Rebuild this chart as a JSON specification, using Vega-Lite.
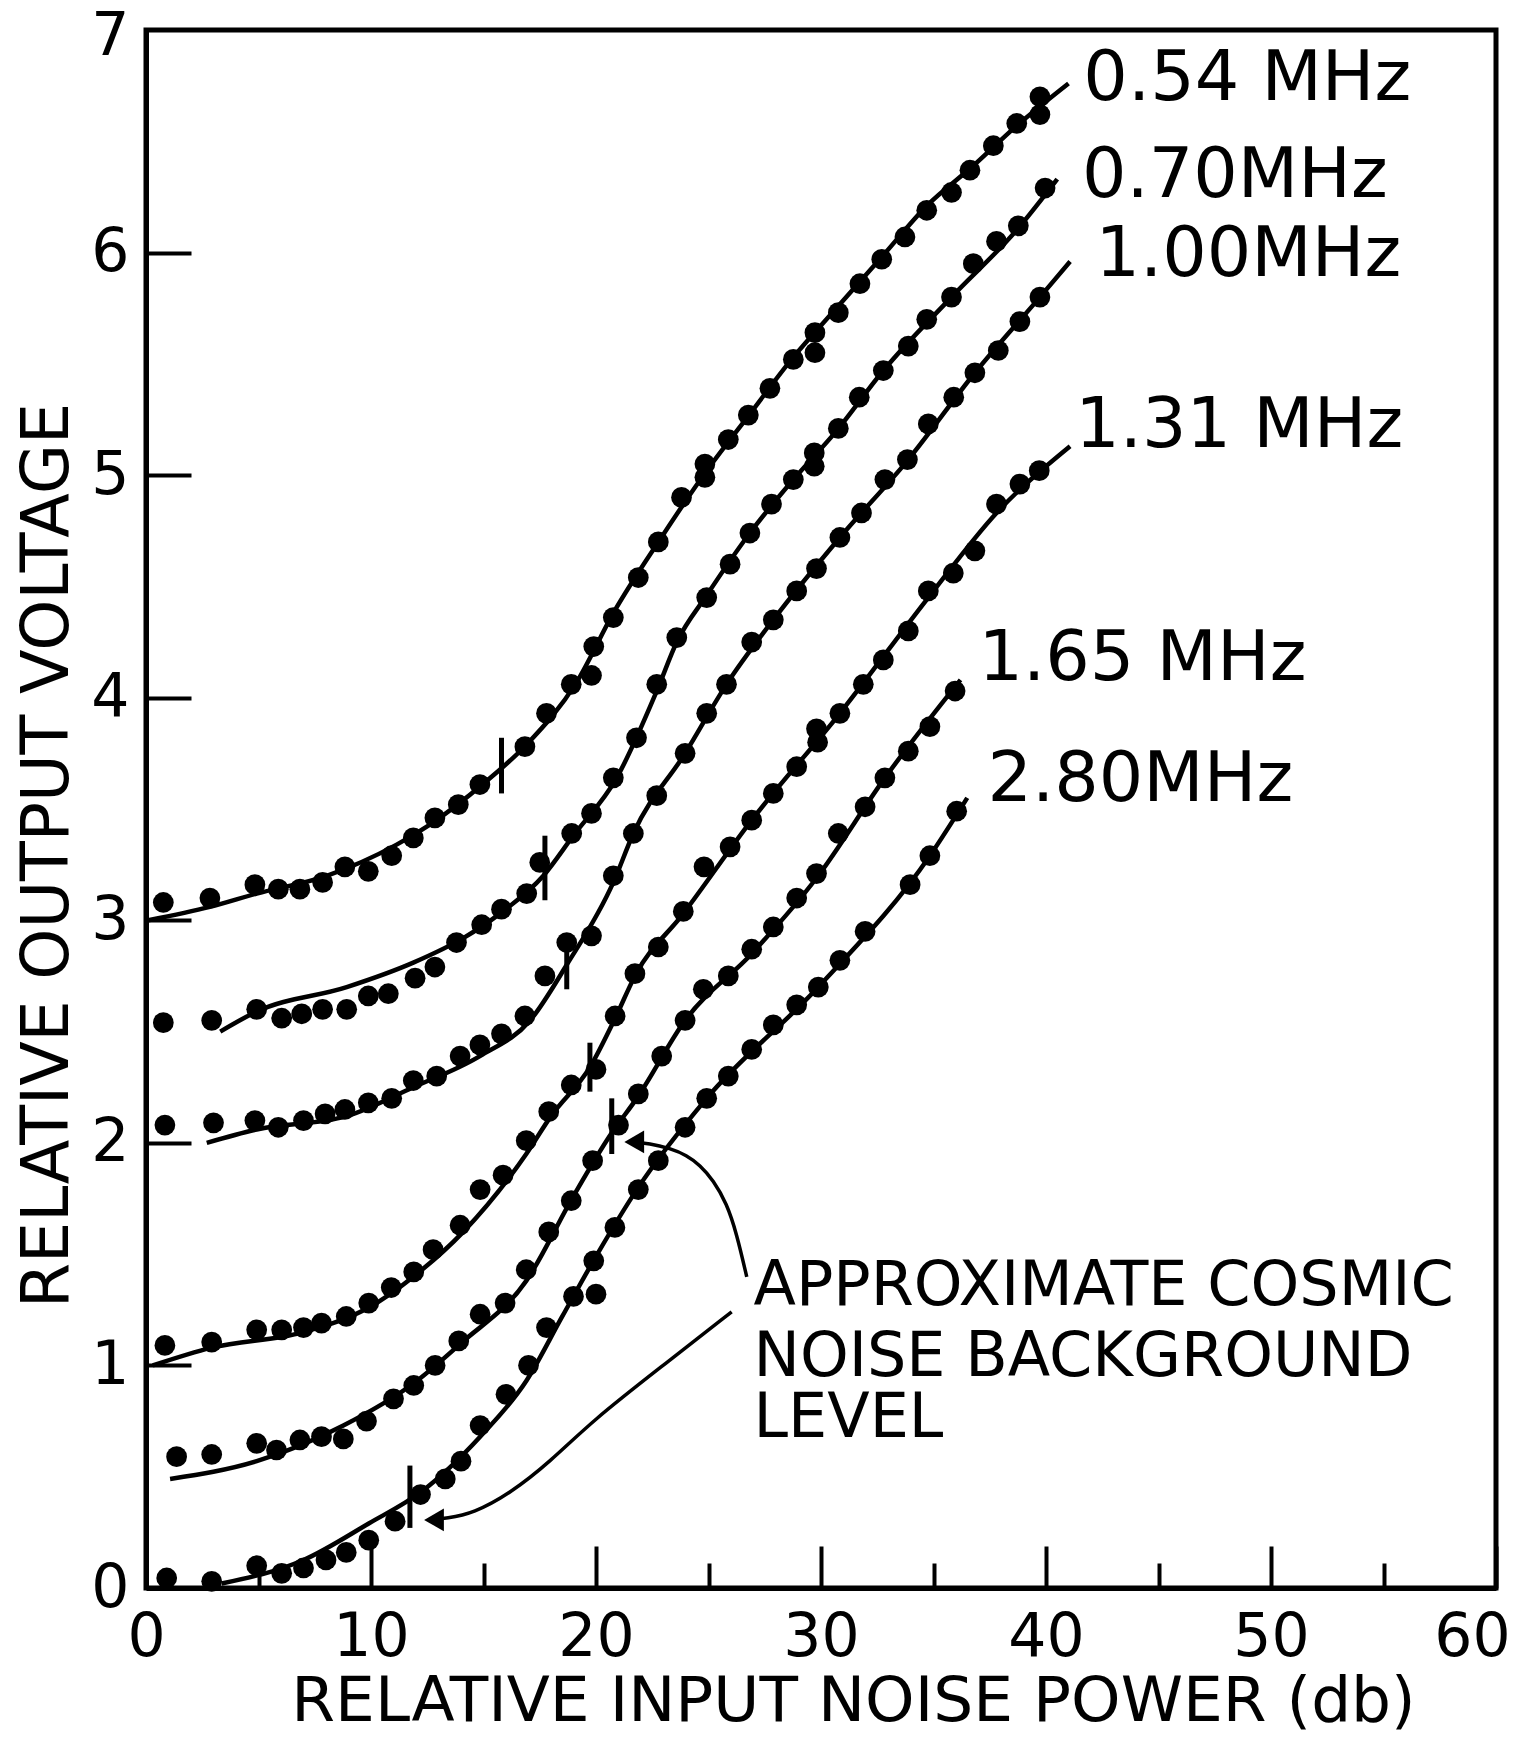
{
  "$schema": "https://vega.github.io/schema/vega-lite/v6.json",
  "width": 1350,
  "height": 1558,
  "autosize": "none",
  "padding": {"left": 146, "top": 30, "right": 31, "bottom": 154},
  "background": "white",
  "config": {
    "font": "DejaVu Sans",
    "view": {"stroke": "black", "strokeWidth": 5},
    "axis": {
      "grid": false,
      "domainColor": "black",
      "domainWidth": 5,
      "tickColor": "black",
      "tickWidth": 4,
      "labelFont": "DejaVu Sans",
      "labelFontSize": 60,
      "labelColor": "black",
      "labelFlush": false,
      "labelOverlap": false,
      "titleFont": "DejaVu Sans",
      "titleFontWeight": "normal",
      "titleColor": "black"
    }
  },
  "datasets": {
    "points": [
      {"series": "0.54", "x": 0.77, "y": 3.08}, {"series": "0.54", "x": 2.84, "y": 3.10}, {"series": "0.54", "x": 4.84, "y": 3.16},
      {"series": "0.54", "x": 5.88, "y": 3.14}, {"series": "0.54", "x": 6.84, "y": 3.14}, {"series": "0.54", "x": 7.85, "y": 3.17},
      {"series": "0.54", "x": 8.84, "y": 3.24}, {"series": "0.54", "x": 9.88, "y": 3.22}, {"series": "0.54", "x": 10.92, "y": 3.29},
      {"series": "0.54", "x": 11.88, "y": 3.37}, {"series": "0.54", "x": 12.84, "y": 3.46}, {"series": "0.54", "x": 13.88, "y": 3.52},
      {"series": "0.54", "x": 14.84, "y": 3.61}, {"series": "0.54", "x": 16.84, "y": 3.78}, {"series": "0.54", "x": 17.8, "y": 3.93},
      {"series": "0.54", "x": 18.9, "y": 4.06}, {"series": "0.54", "x": 19.8, "y": 4.10}, {"series": "0.54", "x": 19.9, "y": 4.23},
      {"series": "0.54", "x": 20.77, "y": 4.36}, {"series": "0.54", "x": 21.88, "y": 4.54}, {"series": "0.54", "x": 22.77, "y": 4.70},
      {"series": "0.54", "x": 23.8, "y": 4.90}, {"series": "0.54", "x": 24.84, "y": 4.99}, {"series": "0.54", "x": 24.84, "y": 5.05},
      {"series": "0.54", "x": 25.88, "y": 5.16}, {"series": "0.54", "x": 26.77, "y": 5.27}, {"series": "0.54", "x": 27.73, "y": 5.39},
      {"series": "0.54", "x": 28.77, "y": 5.52}, {"series": "0.54", "x": 29.73, "y": 5.55}, {"series": "0.54", "x": 29.73, "y": 5.64},
      {"series": "0.54", "x": 30.77, "y": 5.73}, {"series": "0.54", "x": 31.73, "y": 5.86}, {"series": "0.54", "x": 32.7, "y": 5.97},
      {"series": "0.54", "x": 33.73, "y": 6.07}, {"series": "0.54", "x": 34.7, "y": 6.19}, {"series": "0.54", "x": 35.8, "y": 6.27},
      {"series": "0.54", "x": 36.62, "y": 6.37}, {"series": "0.54", "x": 37.66, "y": 6.48}, {"series": "0.54", "x": 38.7, "y": 6.58},
      {"series": "0.54", "x": 39.73, "y": 6.62}, {"series": "0.54", "x": 39.73, "y": 6.70},

      {"series": "0.70", "x": 0.77, "y": 2.54}, {"series": "0.70", "x": 2.92, "y": 2.55}, {"series": "0.70", "x": 4.92, "y": 2.60},
      {"series": "0.70", "x": 6.03, "y": 2.56}, {"series": "0.70", "x": 6.92, "y": 2.58}, {"series": "0.70", "x": 7.85, "y": 2.60},
      {"series": "0.70", "x": 8.92, "y": 2.60}, {"series": "0.70", "x": 9.88, "y": 2.66}, {"series": "0.70", "x": 10.77, "y": 2.67},
      {"series": "0.70", "x": 11.96, "y": 2.74}, {"series": "0.70", "x": 12.84, "y": 2.79}, {"series": "0.70", "x": 13.8, "y": 2.90},
      {"series": "0.70", "x": 14.92, "y": 2.98}, {"series": "0.70", "x": 15.8, "y": 3.05}, {"series": "0.70", "x": 16.92, "y": 3.12},
      {"series": "0.70", "x": 17.5, "y": 3.26}, {"series": "0.70", "x": 18.92, "y": 3.39}, {"series": "0.70", "x": 19.8, "y": 3.48},
      {"series": "0.70", "x": 20.77, "y": 3.64}, {"series": "0.70", "x": 21.8, "y": 3.82}, {"series": "0.70", "x": 22.7, "y": 4.06},
      {"series": "0.70", "x": 23.59, "y": 4.27}, {"series": "0.70", "x": 24.92, "y": 4.45}, {"series": "0.70", "x": 25.96, "y": 4.60},
      {"series": "0.70", "x": 26.84, "y": 4.74}, {"series": "0.70", "x": 27.8, "y": 4.87}, {"series": "0.70", "x": 28.77, "y": 4.98},
      {"series": "0.70", "x": 29.7, "y": 5.04}, {"series": "0.70", "x": 29.7, "y": 5.10}, {"series": "0.70", "x": 30.77, "y": 5.21},
      {"series": "0.70", "x": 31.7, "y": 5.35}, {"series": "0.70", "x": 32.77, "y": 5.47}, {"series": "0.70", "x": 33.88, "y": 5.58},
      {"series": "0.70", "x": 34.7, "y": 5.70}, {"series": "0.70", "x": 35.8, "y": 5.80}, {"series": "0.70", "x": 36.77, "y": 5.95},
      {"series": "0.70", "x": 37.8, "y": 6.05}, {"series": "0.70", "x": 38.77, "y": 6.12}, {"series": "0.70", "x": 39.96, "y": 6.29},

      {"series": "1.00", "x": 0.84, "y": 2.08}, {"series": "1.00", "x": 3.0, "y": 2.09}, {"series": "1.00", "x": 4.84, "y": 2.10},
      {"series": "1.00", "x": 5.88, "y": 2.07}, {"series": "1.00", "x": 7.0, "y": 2.10}, {"series": "1.00", "x": 7.96, "y": 2.13},
      {"series": "1.00", "x": 8.84, "y": 2.15}, {"series": "1.00", "x": 9.88, "y": 2.18}, {"series": "1.00", "x": 10.92, "y": 2.20},
      {"series": "1.00", "x": 11.88, "y": 2.28}, {"series": "1.00", "x": 12.92, "y": 2.30}, {"series": "1.00", "x": 13.96, "y": 2.39},
      {"series": "1.00", "x": 14.84, "y": 2.44}, {"series": "1.00", "x": 15.8, "y": 2.49}, {"series": "1.00", "x": 16.84, "y": 2.57},
      {"series": "1.00", "x": 17.73, "y": 2.75}, {"series": "1.00", "x": 18.7, "y": 2.90}, {"series": "1.00", "x": 19.8, "y": 2.93},
      {"series": "1.00", "x": 20.77, "y": 3.20}, {"series": "1.00", "x": 21.66, "y": 3.39}, {"series": "1.00", "x": 22.7, "y": 3.56},
      {"series": "1.00", "x": 23.96, "y": 3.75}, {"series": "1.00", "x": 24.92, "y": 3.93}, {"series": "1.00", "x": 25.8, "y": 4.06},
      {"series": "1.00", "x": 26.92, "y": 4.25}, {"series": "1.00", "x": 27.88, "y": 4.35}, {"series": "1.00", "x": 28.92, "y": 4.48},
      {"series": "1.00", "x": 29.8, "y": 4.58}, {"series": "1.00", "x": 30.84, "y": 4.72}, {"series": "1.00", "x": 31.8, "y": 4.83},
      {"series": "1.00", "x": 32.84, "y": 4.98}, {"series": "1.00", "x": 33.84, "y": 5.07}, {"series": "1.00", "x": 34.77, "y": 5.23},
      {"series": "1.00", "x": 35.9, "y": 5.35}, {"series": "1.00", "x": 36.84, "y": 5.46}, {"series": "1.00", "x": 37.88, "y": 5.56},
      {"series": "1.00", "x": 38.84, "y": 5.69}, {"series": "1.00", "x": 39.73, "y": 5.80},

      {"series": "1.31", "x": 0.84, "y": 1.09}, {"series": "1.31", "x": 2.92, "y": 1.105}, {"series": "1.31", "x": 4.92, "y": 1.16},
      {"series": "1.31", "x": 6.03, "y": 1.16}, {"series": "1.31", "x": 7.0, "y": 1.17}, {"series": "1.31", "x": 7.8, "y": 1.19},
      {"series": "1.31", "x": 8.9, "y": 1.22}, {"series": "1.31", "x": 9.9, "y": 1.28}, {"series": "1.31", "x": 10.9, "y": 1.35},
      {"series": "1.31", "x": 11.9, "y": 1.42}, {"series": "1.31", "x": 12.76, "y": 1.52}, {"series": "1.31", "x": 13.96, "y": 1.63},
      {"series": "1.31", "x": 14.85, "y": 1.79}, {"series": "1.31", "x": 15.87, "y": 1.855}, {"series": "1.31", "x": 16.9, "y": 2.01},
      {"series": "1.31", "x": 17.9, "y": 2.14}, {"series": "1.31", "x": 18.9, "y": 2.26}, {"series": "1.31", "x": 20.0, "y": 2.33},
      {"series": "1.31", "x": 20.85, "y": 2.57}, {"series": "1.31", "x": 21.73, "y": 2.76}, {"series": "1.31", "x": 22.77, "y": 2.88},
      {"series": "1.31", "x": 23.88, "y": 3.04}, {"series": "1.31", "x": 24.8, "y": 3.24}, {"series": "1.31", "x": 25.96, "y": 3.33},
      {"series": "1.31", "x": 26.92, "y": 3.45}, {"series": "1.31", "x": 27.88, "y": 3.57}, {"series": "1.31", "x": 28.92, "y": 3.69},
      {"series": "1.31", "x": 29.85, "y": 3.80}, {"series": "1.31", "x": 29.8, "y": 3.86}, {"series": "1.31", "x": 30.84, "y": 3.93},
      {"series": "1.31", "x": 31.88, "y": 4.06}, {"series": "1.31", "x": 32.77, "y": 4.17}, {"series": "1.31", "x": 33.88, "y": 4.30},
      {"series": "1.31", "x": 34.77, "y": 4.48}, {"series": "1.31", "x": 35.88, "y": 4.56}, {"series": "1.31", "x": 36.84, "y": 4.66},
      {"series": "1.31", "x": 37.8, "y": 4.87}, {"series": "1.31", "x": 38.84, "y": 4.96}, {"series": "1.31", "x": 39.7, "y": 5.02},

      {"series": "1.65", "x": 1.36, "y": 0.59}, {"series": "1.65", "x": 2.92, "y": 0.60}, {"series": "1.65", "x": 4.92, "y": 0.65},
      {"series": "1.65", "x": 5.8, "y": 0.62}, {"series": "1.65", "x": 6.84, "y": 0.665}, {"series": "1.65", "x": 7.8, "y": 0.68},
      {"series": "1.65", "x": 8.77, "y": 0.67}, {"series": "1.65", "x": 9.8, "y": 0.75}, {"series": "1.65", "x": 11.0, "y": 0.85},
      {"series": "1.65", "x": 11.9, "y": 0.91}, {"series": "1.65", "x": 12.85, "y": 1.0}, {"series": "1.65", "x": 13.9, "y": 1.11},
      {"series": "1.65", "x": 14.85, "y": 1.23}, {"series": "1.65", "x": 15.96, "y": 1.28}, {"series": "1.65", "x": 16.9, "y": 1.43},
      {"series": "1.65", "x": 17.9, "y": 1.60}, {"series": "1.65", "x": 18.9, "y": 1.74}, {"series": "1.65", "x": 19.85, "y": 1.92},
      {"series": "1.65", "x": 21.0, "y": 2.08}, {"series": "1.65", "x": 21.88, "y": 2.22}, {"series": "1.65", "x": 22.92, "y": 2.39},
      {"series": "1.65", "x": 23.96, "y": 2.55}, {"series": "1.65", "x": 24.77, "y": 2.69}, {"series": "1.65", "x": 25.88, "y": 2.75},
      {"series": "1.65", "x": 26.92, "y": 2.87}, {"series": "1.65", "x": 27.88, "y": 2.97}, {"series": "1.65", "x": 28.92, "y": 3.10},
      {"series": "1.65", "x": 29.8, "y": 3.21}, {"series": "1.65", "x": 30.77, "y": 3.39}, {"series": "1.65", "x": 31.96, "y": 3.51},
      {"series": "1.65", "x": 32.84, "y": 3.64}, {"series": "1.65", "x": 33.88, "y": 3.76}, {"series": "1.65", "x": 34.84, "y": 3.87},
      {"series": "1.65", "x": 35.96, "y": 4.03},

      {"series": "2.80", "x": 0.92, "y": 0.045}, {"series": "2.80", "x": 2.92, "y": 0.03}, {"series": "2.80", "x": 4.92, "y": 0.10},
      {"series": "2.80", "x": 6.03, "y": 0.066}, {"series": "2.80", "x": 7.0, "y": 0.09}, {"series": "2.80", "x": 8.0, "y": 0.126},
      {"series": "2.80", "x": 8.9, "y": 0.16}, {"series": "2.80", "x": 9.9, "y": 0.215}, {"series": "2.80", "x": 11.07, "y": 0.30},
      {"series": "2.80", "x": 12.2, "y": 0.42}, {"series": "2.80", "x": 13.3, "y": 0.49}, {"series": "2.80", "x": 14.0, "y": 0.57},
      {"series": "2.80", "x": 14.85, "y": 0.73}, {"series": "2.80", "x": 16.0, "y": 0.87}, {"series": "2.80", "x": 17.0, "y": 1.0},
      {"series": "2.80", "x": 17.8, "y": 1.17}, {"series": "2.80", "x": 19.0, "y": 1.31}, {"series": "2.80", "x": 20.0, "y": 1.32},
      {"series": "2.80", "x": 19.9, "y": 1.47}, {"series": "2.80", "x": 20.84, "y": 1.62}, {"series": "2.80", "x": 21.88, "y": 1.79},
      {"series": "2.80", "x": 22.77, "y": 1.92}, {"series": "2.80", "x": 23.96, "y": 2.07}, {"series": "2.80", "x": 24.92, "y": 2.20},
      {"series": "2.80", "x": 25.88, "y": 2.30}, {"series": "2.80", "x": 26.92, "y": 2.42}, {"series": "2.80", "x": 27.88, "y": 2.53},
      {"series": "2.80", "x": 28.92, "y": 2.62}, {"series": "2.80", "x": 29.88, "y": 2.70}, {"series": "2.80", "x": 30.84, "y": 2.82},
      {"series": "2.80", "x": 31.96, "y": 2.95}, {"series": "2.80", "x": 33.96, "y": 3.16}, {"series": "2.80", "x": 34.84, "y": 3.29},
      {"series": "2.80", "x": 36.03, "y": 3.49}
    ],
    "curves": [
      {"series": "0.54", "x": 0.1, "y": 3.0}, {"series": "0.54", "x": 2.84, "y": 3.06}, {"series": "0.54", "x": 4.92, "y": 3.12},
      {"series": "0.54", "x": 8.03, "y": 3.2}, {"series": "0.54", "x": 11.14, "y": 3.34}, {"series": "0.54", "x": 12.62, "y": 3.43},
      {"series": "0.54", "x": 15.07, "y": 3.62}, {"series": "0.54", "x": 16.92, "y": 3.79}, {"series": "0.54", "x": 19.14, "y": 4.07},
      {"series": "0.54", "x": 20.77, "y": 4.38}, {"series": "0.54", "x": 22.84, "y": 4.71}, {"series": "0.54", "x": 24.92, "y": 5.02},
      {"series": "0.54", "x": 26.8, "y": 5.27}, {"series": "0.54", "x": 28.77, "y": 5.53}, {"series": "0.54", "x": 30.77, "y": 5.76},
      {"series": "0.54", "x": 32.7, "y": 5.98}, {"series": "0.54", "x": 34.7, "y": 6.21}, {"series": "0.54", "x": 36.77, "y": 6.39},
      {"series": "0.54", "x": 38.7, "y": 6.57}, {"series": "0.54", "x": 41.0, "y": 6.76},

      {"series": "0.70", "x": 3.3, "y": 2.5}, {"series": "0.70", "x": 4.92, "y": 2.59}, {"series": "0.70", "x": 8.92, "y": 2.7},
      {"series": "0.70", "x": 11.88, "y": 2.81}, {"series": "0.70", "x": 14.1, "y": 2.92}, {"series": "0.70", "x": 15.73, "y": 3.03},
      {"series": "0.70", "x": 17.66, "y": 3.2}, {"series": "0.70", "x": 18.99, "y": 3.38}, {"series": "0.70", "x": 20.92, "y": 3.64},
      {"series": "0.70", "x": 22.7, "y": 4.03}, {"series": "0.70", "x": 23.59, "y": 4.25}, {"series": "0.70", "x": 24.92, "y": 4.46},
      {"series": "0.70", "x": 26.84, "y": 4.74}, {"series": "0.70", "x": 28.77, "y": 4.98}, {"series": "0.70", "x": 30.7, "y": 5.2},
      {"series": "0.70", "x": 32.77, "y": 5.47}, {"series": "0.70", "x": 35.8, "y": 5.8}, {"series": "0.70", "x": 38.77, "y": 6.11},
      {"series": "0.70", "x": 40.5, "y": 6.33},

      {"series": "1.00", "x": 2.7, "y": 2.0}, {"series": "1.00", "x": 4.92, "y": 2.06}, {"series": "1.00", "x": 8.92, "y": 2.12},
      {"series": "1.00", "x": 11.88, "y": 2.25}, {"series": "1.00", "x": 14.84, "y": 2.39}, {"series": "1.00", "x": 17.07, "y": 2.55},
      {"series": "1.00", "x": 18.7, "y": 2.8}, {"series": "1.00", "x": 20.77, "y": 3.17}, {"series": "1.00", "x": 21.66, "y": 3.39},
      {"series": "1.00", "x": 23.96, "y": 3.75}, {"series": "1.00", "x": 25.8, "y": 4.06}, {"series": "1.00", "x": 27.88, "y": 4.35},
      {"series": "1.00", "x": 30.84, "y": 4.72}, {"series": "1.00", "x": 33.88, "y": 5.07}, {"series": "1.00", "x": 36.84, "y": 5.46},
      {"series": "1.00", "x": 39.73, "y": 5.8}, {"series": "1.00", "x": 41.07, "y": 5.96},

      {"series": "1.31", "x": 0.3, "y": 1.0}, {"series": "1.31", "x": 2.92, "y": 1.08}, {"series": "1.31", "x": 7.0, "y": 1.15},
      {"series": "1.31", "x": 9.9, "y": 1.26}, {"series": "1.31", "x": 11.9, "y": 1.4}, {"series": "1.31", "x": 14.1, "y": 1.6},
      {"series": "1.31", "x": 16.9, "y": 1.95}, {"series": "1.31", "x": 18.0, "y": 2.12}, {"series": "1.31", "x": 19.73, "y": 2.34},
      {"series": "1.31", "x": 20.85, "y": 2.56}, {"series": "1.31", "x": 21.73, "y": 2.75}, {"series": "1.31", "x": 23.88, "y": 3.03},
      {"series": "1.31", "x": 26.92, "y": 3.45}, {"series": "1.31", "x": 30.84, "y": 3.93}, {"series": "1.31", "x": 34.77, "y": 4.45},
      {"series": "1.31", "x": 37.8, "y": 4.83}, {"series": "1.31", "x": 41.07, "y": 5.13},

      {"series": "1.65", "x": 1.07, "y": 0.49}, {"series": "1.65", "x": 4.92, "y": 0.57}, {"series": "1.65", "x": 8.77, "y": 0.73},
      {"series": "1.65", "x": 11.9, "y": 0.92}, {"series": "1.65", "x": 14.0, "y": 1.1}, {"series": "1.65", "x": 16.9, "y": 1.38},
      {"series": "1.65", "x": 18.99, "y": 1.76}, {"series": "1.65", "x": 20.6, "y": 2.03}, {"series": "1.65", "x": 21.88, "y": 2.21},
      {"series": "1.65", "x": 23.96, "y": 2.55}, {"series": "1.65", "x": 26.92, "y": 2.85}, {"series": "1.65", "x": 29.8, "y": 3.19},
      {"series": "1.65", "x": 32.84, "y": 3.64}, {"series": "1.65", "x": 36.2, "y": 4.08},

      {"series": "2.80", "x": 3.36, "y": 0.02}, {"series": "2.80", "x": 7.0, "y": 0.126}, {"series": "2.80", "x": 9.9, "y": 0.29},
      {"series": "2.80", "x": 12.2, "y": 0.43}, {"series": "2.80", "x": 14.85, "y": 0.68}, {"series": "2.80", "x": 16.9, "y": 0.93},
      {"series": "2.80", "x": 18.5, "y": 1.22}, {"series": "2.80", "x": 20.0, "y": 1.49}, {"series": "2.80", "x": 21.88, "y": 1.8},
      {"series": "2.80", "x": 24.92, "y": 2.2}, {"series": "2.80", "x": 29.88, "y": 2.7}, {"series": "2.80", "x": 34.84, "y": 3.29},
      {"series": "2.80", "x": 36.5, "y": 3.55}
    ],
    "cosmic": [
      {"series": "0.54", "x": 15.8, "y": 3.57, "y2": 3.82},
      {"series": "0.70", "x": 17.73, "y": 3.09, "y2": 3.38},
      {"series": "1.00", "x": 18.7, "y": 2.69, "y2": 2.92},
      {"series": "1.31", "x": 19.73, "y": 2.23, "y2": 2.45},
      {"series": "1.65", "x": 20.7, "y": 1.95, "y2": 2.2},
      {"series": "2.80", "x": 11.73, "y": 0.27, "y2": 0.55}
    ],
    "arrows": [
      {"arrow": "a", "order": 1, "x": 26.7, "y": 1.398}, {"arrow": "a", "order": 2, "x": 26.25, "y": 1.593},
      {"arrow": "a", "order": 3, "x": 25.81, "y": 1.728}, {"arrow": "a", "order": 4, "x": 25.21, "y": 1.833},
      {"arrow": "a", "order": 5, "x": 24.62, "y": 1.9}, {"arrow": "a", "order": 6, "x": 24.03, "y": 1.945},
      {"arrow": "a", "order": 7, "x": 23.29, "y": 1.975}, {"arrow": "a", "order": 8, "x": 22.4, "y": 1.998},
      {"arrow": "a", "order": 9, "x": 21.5, "y": 2.004},
      {"arrow": "b", "order": 1, "x": 26.03, "y": 1.241}, {"arrow": "b", "order": 2, "x": 22.84, "y": 0.989},
      {"arrow": "b", "order": 3, "x": 19.88, "y": 0.755}, {"arrow": "b", "order": 4, "x": 17.96, "y": 0.567},
      {"arrow": "b", "order": 5, "x": 16.18, "y": 0.425}, {"arrow": "b", "order": 6, "x": 14.55, "y": 0.336},
      {"arrow": "b", "order": 7, "x": 13.36, "y": 0.313}, {"arrow": "b", "order": 8, "x": 12.6, "y": 0.306}
    ],
    "heads": [
      {"arrow": "a", "x": 21.7, "y": 2.004},
      {"arrow": "b", "x": 12.8, "y": 0.306}
    ],
    "labels": [
      {"text": "0.54 MHz", "x": 41.66, "y": 6.78},
      {"text": "0.70MHz", "x": 41.6, "y": 6.345},
      {"text": "1.00MHz", "x": 42.2, "y": 5.99},
      {"text": "1.31 MHz", "x": 41.3, "y": 5.22},
      {"text": "1.65 MHz", "x": 37.0, "y": 4.175},
      {"text": "2.80MHz", "x": 37.4, "y": 3.63}
    ],
    "notes": [
      {"text": "APPROXIMATE  COSMIC", "x": 27.0, "y": 1.357},
      {"text": "NOISE  BACKGROUND", "x": 27.0, "y": 1.04},
      {"text": "LEVEL", "x": 27.0, "y": 0.764}
    ]
  },
  "encoding": {
    "x": {
      "field": "x",
      "type": "quantitative",
      "scale": {"domain": [0, 60], "nice": false, "zero": false},
      "axis": {
        "title": "RELATIVE INPUT NOISE POWER (db)",
        "titleFontSize": 63,
        "values": [0, 5, 10, 15, 20, 25, 30, 35, 40, 45, 50, 55, 60],
        "labelExpr": "datum.value % 10 === 0 ? datum.label : ''",
        "tickSize": {"condition": {"test": "datum.value % 10 === 0", "value": -42}, "value": -25},
        "labelPadding": {"condition": {"test": "datum.value % 10 === 0", "value": 62}, "value": 45},
        "labelOffset": {"condition": {"test": "datum.value === 60", "value": -24}, "value": 0},
        "labelBaseline": "top",
        "titleX": 707,
        "titleY": 113,
        "titleBaseline": "middle",
        "titleAlign": "center"
      }
    },
    "y": {
      "field": "y",
      "type": "quantitative",
      "scale": {"domain": [0, 7], "nice": false, "zero": false},
      "axis": {
        "title": "RELATIVE OUTPUT VOLTAGE",
        "titleFontSize": 65,
        "values": [0, 1, 2, 3, 4, 5, 6, 7],
        "tickSize": {"condition": {"test": "datum.value > 0 && datum.value < 7", "value": -45}, "value": 0},
        "labelPadding": {"condition": {"test": "datum.value > 0 && datum.value < 7", "value": 62}, "value": 17},
        "labelOffset": {"condition": {"test": "datum.value === 7", "value": 6}, "value": 0},
        "titleX": -99,
        "titleY": 825,
        "titleAngle": -90,
        "titleBaseline": "middle",
        "titleAlign": "center"
      }
    }
  },
  "layer": [
    {
      "data": {"name": "curves"},
      "mark": {"type": "line", "color": "black", "strokeWidth": 4.5, "interpolate": "monotone"},
      "encoding": {"detail": {"field": "series", "type": "nominal"}}
    },
    {
      "data": {"name": "points"},
      "mark": {"type": "point", "filled": true, "shape": "circle", "color": "black", "opacity": 1, "size": 430},
      "encoding": {}
    },
    {
      "data": {"name": "cosmic"},
      "mark": {"type": "rule", "color": "black", "strokeWidth": 5},
      "encoding": {"y2": {"field": "y2"}}
    },
    {
      "data": {"name": "arrows"},
      "mark": {"type": "line", "color": "black", "strokeWidth": 3.5, "interpolate": "basis"},
      "encoding": {
        "detail": {"field": "arrow", "type": "nominal"},
        "order": {"field": "order", "type": "quantitative"}
      }
    },
    {
      "data": {"name": "heads"},
      "mark": {"type": "point", "shape": "triangle-left", "filled": true, "color": "black", "opacity": 1, "size": 520},
      "encoding": {}
    },
    {
      "data": {"name": "labels"},
      "mark": {"type": "text", "align": "left", "baseline": "middle", "font": "DejaVu Sans", "fontSize": 70, "color": "black"},
      "encoding": {"text": {"field": "text"}}
    },
    {
      "data": {"name": "notes"},
      "mark": {"type": "text", "align": "left", "baseline": "middle", "font": "DejaVu Sans", "fontSize": 62, "color": "black"},
      "encoding": {"text": {"field": "text"}}
    }
  ]
}
